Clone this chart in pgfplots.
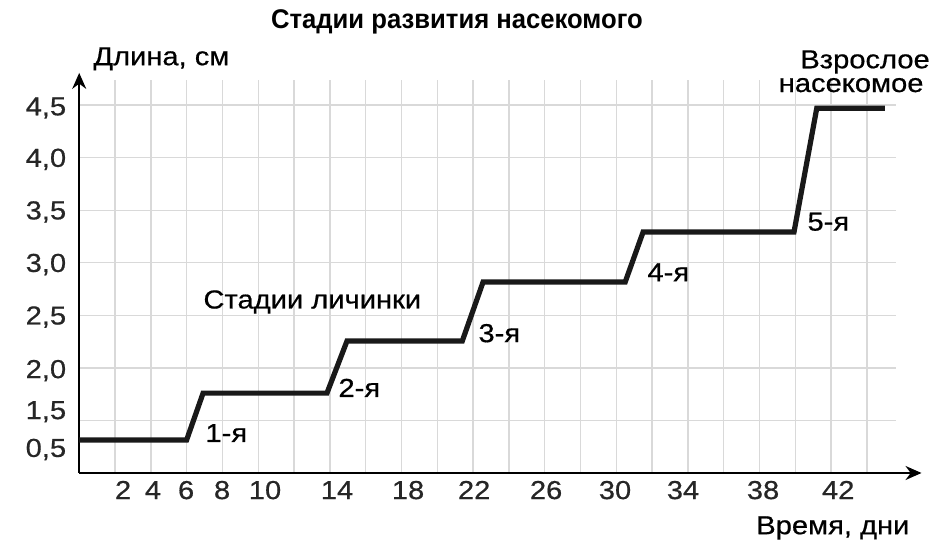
\documentclass[border=0pt]{standalone}
\usepackage{fontspec}
\setmainfont{Liberation Sans}[FakeStretch=1.12, FakeBold=0.6]
\newfontfamily\titlefont{Liberation Sans}[FakeStretch=0.95]
\usepackage{pgfplots}
\pgfplotsset{compat=1.18}
\usetikzlibrary{arrows.meta}
\newcommand{\lblfont}{\fontsize{13}{15}\selectfont}
\begin{document}
\begin{tikzpicture}
\begin{axis}[
  x=8.95pt, y=52.55pt,
  xmin=0, xmax=45.6, ymin=1, ymax=4.74,
  axis lines=left,
  clip=false,
  x axis line style={line width=1pt, -{Stealth[length=8pt,width=7pt]}, shorten >=-13pt},
  y axis line style={line width=1pt, -{Stealth[length=8pt,width=7pt]}, shorten >=-3.5pt},
  xtick={2.45,4.12,5.97,7.98,10.38,14.4,18.37,22.06,26.08,29.93,33.73,38.2,42.4},
  xticklabels={2,4,6,8,10,14,18,22,26,30,34,38,42},
  ytick={1.21,1.57,1.96,2.47,2.97,3.47,3.97,4.46},
  yticklabels={{0,5},{1,5},{2,0},{2,5},{3,0},{3,5},{4,0},{4,5}},
  typeset ticklabels with strut,
  major tick length=0pt,
  minor tick length=0pt,
  minor xtick={2,4,...,44},
  minor ytick={1.5,2,2.5,3,3.5,4,4.5},
  xminorgrids, yminorgrids,
  minor grid style={draw=gray!30, line width=0.7pt},
  tick label style={font=\lblfont, text=black!85},
  yticklabel style={xshift=-3pt},
  xticklabel style={yshift=1pt},
]
\addplot[line width=2.6pt, black!90, line join=miter] coordinates {
  (0,1.314) (6,1.314) (6.92,1.76) (13.84,1.76) (14.96,2.256)
  (21.4,2.256) (22.56,2.817) (30.5,2.817) (31.5,3.293)
  (39.93,3.293) (41.2,4.47) (45.0,4.47)
};
\node[font=\titlefont\bfseries\fontsize{13.5}{15}\selectfont] at (axis cs:21.1,5.29) {Стадии развития насекомого};
\node[anchor=west, inner sep=0pt, font=\lblfont] at (axis cs:0.77,4.94) {Длина, см};
\node[anchor=west, inner sep=0pt, font=\lblfont] at (axis cs:6.92,2.627) {Стадии личинки};
\node[anchor=west, inner sep=0pt, font=\lblfont] at (axis cs:7.03,1.38) {1-я};
\node[anchor=west, inner sep=0pt, font=\lblfont] at (axis cs:14.46,1.81) {2-я};
\node[anchor=west, inner sep=0pt, font=\lblfont] at (axis cs:22.28,2.33) {3-я};
\node[anchor=west, inner sep=0pt, font=\lblfont] at (axis cs:31.72,2.91) {4-я};
\node[anchor=west, inner sep=0pt, font=\lblfont] at (axis cs:40.66,3.39) {5-я};
\node[inner sep=0pt, font=\lblfont] at (axis cs:43.9,4.91) {Взрослое};
\node[inner sep=0pt, font=\lblfont] at (axis cs:43.12,4.69) {насекомое};
\node[inner sep=0pt, font=\lblfont] at (axis cs:42.1,0.477) {Время, дни};
\coordinate (BL) at (axis cs:-4.425,0.3054);
\coordinate (TR) at (axis cs:48.42,5.50);
\end{axis}
\pgfresetboundingbox
\path (BL) rectangle (TR);
\end{tikzpicture}
\end{document}
